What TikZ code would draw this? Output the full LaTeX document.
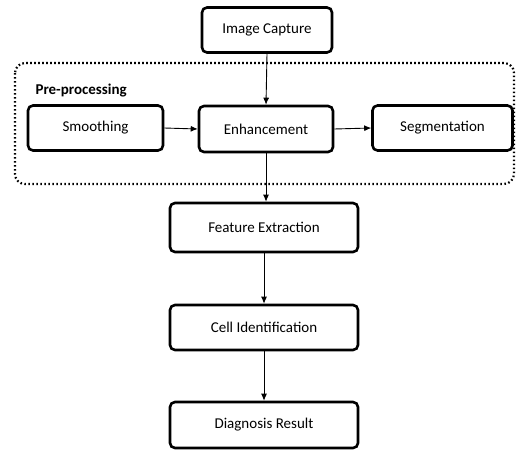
\documentclass[tikz,border=0pt]{standalone}
\usepackage{fontspec}
\setmainfont{Carlito}
\usetikzlibrary{arrows.meta}
\begin{document}
\begin{tikzpicture}[x=1pt,y=-1pt,
  box/.style={draw=black, line width=2.6pt, rounded corners=5pt, fill=white,
    align=center, inner sep=0pt, font=\fontsize{15}{18}\selectfont},
  conn/.style={draw=black, line width=0.9pt, -{Latex[length=7pt,width=6pt]}},
  grp/.style={draw=black, line width=2.2pt, dash pattern=on 1.6pt off 2.4pt, rounded corners=10pt}]
\fill[white] (0,0) rectangle (518,452);
\useasboundingbox (0,0) rectangle (518,452);
\draw[grp] (15,63) rectangle (514,184);
\node[anchor=west, font=\bfseries\fontsize{15}{18}\selectfont] (lbl) at (32,91) {Pre-processing};
\node[box, minimum width=130pt, minimum height=45pt] (cap) at (267,30) {Image Capture};
\node[box, minimum width=135pt, minimum height=45pt] (smooth) at (95.5,128) {Smoothing};
\node[box, minimum width=134pt, minimum height=46pt] (enh) at (266,129) {Enhancement};
\node[box, minimum width=140pt, minimum height=45pt] (seg) at (442.5,128) {Segmentation};
\node[box, minimum width=188pt, minimum height=49pt] (feat) at (264,227.5) {Feature Extraction};
\node[box, minimum width=188pt, minimum height=45pt] (cell) at (264,327.5) {Cell Identification};
\node[box, minimum width=188pt, minimum height=46pt] (diag) at (264,425) {Diagnosis Result};
\draw[conn] (cap.south) -- (enh.north);
\draw[conn] (smooth.east) -- (enh.west);
\draw[conn] (enh.east) -- (seg.west);
\draw[conn] (enh.south) -- (enh.south |- feat.north);
\draw[conn] (feat.south) -- (cell.north);
\draw[conn] (cell.south) -- (diag.north);
\end{tikzpicture}
\end{document}
